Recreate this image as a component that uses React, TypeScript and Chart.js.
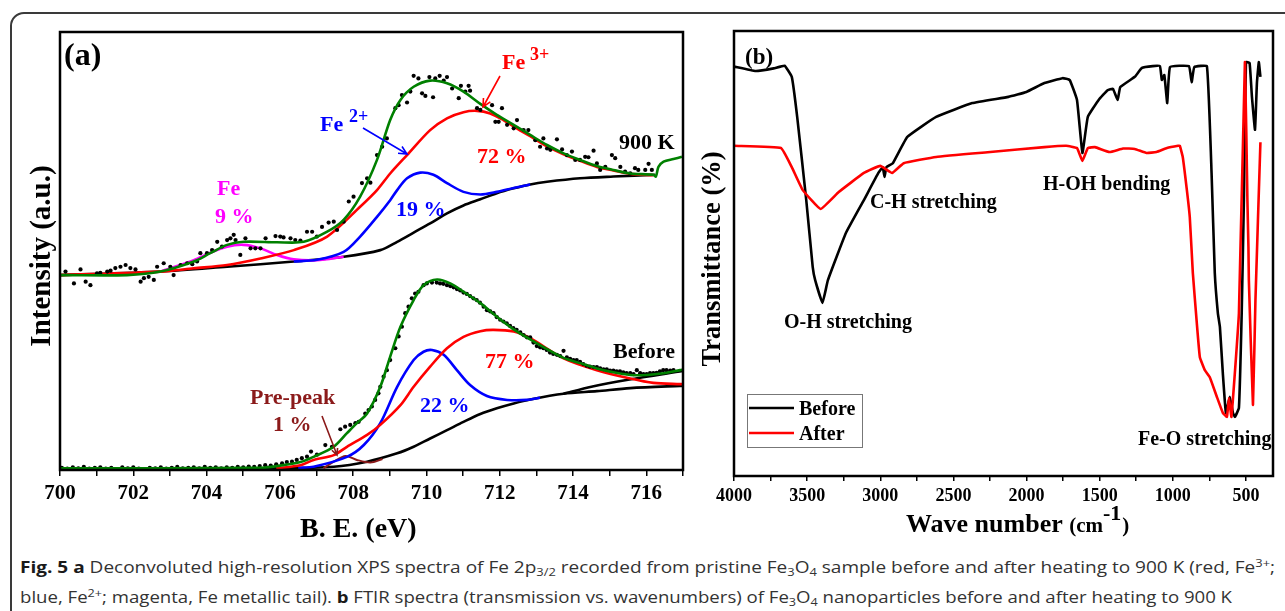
import React, { useEffect, useLayoutEffect, useRef } from "react";
import { Chart, registerables } from "chart.js";
Chart.register(...registerables);

const SERIF = '"Liberation Serif", "Times New Roman", serif';

type P = [number, number];

// ---------- Panel (a): XPS Fe 2p3/2 (x: binding energy eV, y: intensity a.u.) ----------
const xpsTicks = [700, 701, 702, 703, 704, 705, 706, 707, 708, 709, 710, 711, 712, 713, 714, 715, 716, 717];

const bg900: P[] = [[700, 44.5], [702.74, 45.3], [704.56, 46.4], [706.38, 47.6], [707.74, 48.7], [708.74, 50.2], [709.2, 52.1], [709.65, 54.2], [710.1, 56.3], [710.56, 58.6], [711.01, 60.4], [711.47, 61.8], [711.92, 63.2], [712.38, 64.3], [712.83, 65.2], [713.29, 65.8], [714.19, 66.6], [715.1, 67.0], [716.24, 67.4]];
const fe3_900: P[] = [[700, 44.5], [702.74, 45.3], [703.65, 46.05], [704.56, 46.8], [705.47, 48.3], [706.38, 50.2], [707.29, 53.3], [708.19, 60.1], [708.65, 63.9], [709.01, 67.7], [709.47, 71.9], [710.1, 77.6], [710.56, 80.3], [711.01, 81.7], [711.38, 82.0], [711.74, 81.4], [712.1, 79.9], [712.38, 78.4], [712.83, 76.2], [713.29, 73.9], [713.74, 72.1], [714.19, 70.6], [714.65, 69.2], [715.1, 68.4], [715.56, 67.6], [716.19, 67.3]];
const fe2_900: P[] = [[706.38, 47.6], [707.01, 48.0], [707.74, 49.8], [708.19, 53.3], [708.65, 57.8], [709.01, 61.6], [709.2, 63.9], [709.47, 66.6], [709.83, 67.9], [710.19, 67.4], [710.56, 65.5], [711.01, 63.5], [711.47, 62.9], [711.92, 63.5], [712.38, 64.4], [712.83, 65.2]];
const fe0_900: P[] = [[702.74, 45.3], [703.65, 47.9], [704.1, 49.6], [704.56, 51.0], [705.01, 51.4], [705.47, 50.6], [705.92, 49.1], [706.38, 48.1], [707.01, 47.9], [707.74, 48.7]];
const fit900: P[] = [[700, 44.5], [701.83, 44.5], [702.74, 45.3], [703.65, 47.6], [704.1, 49.5], [704.56, 51.4], [705.01, 52.1], [705.92, 52.0], [706.65, 52.1], [707.29, 54.4], [707.74, 57.1], [708.19, 62.4], [708.65, 70.8], [709.01, 79.9], [709.29, 84.5], [709.65, 87.5], [710.1, 88.9], [710.56, 88.3], [711.01, 86.4], [711.47, 83.6], [711.92, 81.1], [712.38, 78.8], [712.83, 76.5], [713.29, 74.2], [713.74, 72.3], [714.19, 70.8], [714.65, 69.4], [715.1, 68.5], [715.56, 67.7], [716.19, 67.4], [716.26, 67.0], [716.33, 69.2], [716.47, 70.4], [716.74, 71.0], [716.97, 71.5]];
const dots900: P[] = [[700.15, 45.3], [700.38, 42.6], [700.56, 45.8], [700.7, 43.0], [700.83, 42.2], [701.01, 44.9], [701.1, 45.0], [701.29, 45.3], [701.38, 45.5], [701.51, 46.1], [701.65, 46.4], [701.79, 46.8], [701.92, 46.1], [702.06, 45.8], [702.2, 43.0], [702.29, 43.8], [702.42, 44.1], [702.56, 43.4], [702.65, 46.4], [702.83, 47.2], [703.01, 46.4], [703.1, 44.5], [703.29, 46.8], [703.47, 47.2], [703.61, 47.0], [703.74, 47.6], [703.83, 49.5], [704.01, 49.5], [704.15, 50.2], [704.29, 52.1], [704.42, 51.0], [704.56, 52.5], [704.65, 52.9], [704.74, 53.7], [704.79, 52.5], [704.92, 49.1], [705.06, 52.9], [705.2, 50.6], [705.33, 50.6], [705.47, 50.6], [705.61, 52.9], [705.88, 53.4], [706.01, 53.3], [706.1, 53.1], [706.29, 52.9], [706.42, 52.5], [706.56, 52.4], [706.74, 54.4], [706.88, 54.4], [707.01, 53.3], [707.15, 55.5], [707.33, 56.5], [707.47, 56.7], [707.56, 54.8], [707.74, 56.7], [707.88, 61.3], [708.01, 62.4], [708.24, 65.5], [708.38, 66.6], [708.47, 65.6], [708.65, 71.9], [708.79, 73.8], [708.92, 75.7], [709.15, 82.6], [709.24, 83.3], [709.33, 85.6], [709.47, 83.9], [709.56, 86.4], [709.65, 90.0], [709.78, 89.4], [709.88, 86.0], [709.97, 85.4], [710.08, 89.7], [710.18, 85.1], [710.24, 89.4], [710.36, 90.0], [710.47, 88.9], [710.56, 89.7], [710.7, 87.1], [710.88, 84.9], [710.94, 87.7], [711.06, 86.4], [711.15, 87.7], [711.19, 86.6], [711.38, 82.6], [711.47, 82.2], [711.79, 83.3], [711.88, 79.5], [711.97, 79.5], [712.06, 82.6], [712.2, 78.8], [712.38, 78.0], [712.47, 79.9], [712.65, 77.6], [712.78, 77.6], [712.97, 75.3], [713.1, 73.8], [713.19, 75.7], [713.29, 73.4], [713.38, 73.1], [713.56, 75.5], [713.7, 73.2], [713.83, 71.9], [713.97, 72.7], [714.06, 70.8], [714.19, 70.8], [714.33, 71.5], [714.42, 71.4], [714.56, 72.9], [714.65, 70.0], [714.74, 68.5], [714.88, 69.2], [715.06, 71.9], [715.15, 71.2], [715.29, 69.2], [715.42, 68.1], [715.56, 67.7], [715.69, 68.9], [715.78, 68.5], [715.97, 68.5], [716.06, 69.9], [716.15, 68.5]];

const bgBefore: P[] = [[700, 0.2], [706.01, 0.4], [707.47, 0.75], [708.38, 1.9], [709.2, 3.8], [709.65, 5.3], [710.1, 7.2], [710.56, 9.1], [711.01, 11.0], [711.47, 12.8], [711.92, 14.1], [712.38, 15.2], [712.83, 16.1], [713.74, 17.4], [714.65, 18.0], [715.56, 18.7], [716.92, 19.2], [717, 19.2]];
const bg2Before: P[] = [[713.74, 17.4], [714.5, 19.0], [715.5, 20.6], [717, 22.6]];
const fe3Before: P[] = [[705.9, 0.4], [706.56, 1.1], [706.92, 2.3], [707.47, 3.4], [707.83, 5.3], [708.38, 8.0], [708.74, 10.3], [709.29, 14.8], [709.65, 19.0], [710.1, 23.6], [710.56, 27.8], [711.01, 30.4], [711.47, 31.7], [711.83, 32.0], [712.38, 31.6], [712.83, 30.1], [713.74, 25.5], [714.65, 22.8], [715.56, 20.9], [716.19, 19.9], [716.92, 19.6], [717, 19.6]];
const fe2Before: P[] = [[706.5, 0.5], [706.92, 0.75], [707.83, 3.0], [708.29, 5.7], [708.74, 10.7], [709.2, 19.0], [709.65, 25.1], [709.92, 27.0], [710.15, 27.4], [710.47, 26.3], [710.83, 22.8], [711.19, 19.4], [711.65, 16.9], [712.2, 16.0], [712.74, 16.0], [713.1, 16.5]];
const preBefore: P[] = [[707.19, 0.4], [707.47, 1.9], [707.79, 3.2], [708.1, 2.3], [708.47, 1.7], [708.8, 2.5]];
const fitBefore: P[] = [[700, 0.4], [705.5, 0.5], [706.0, 1.0], [706.56, 1.8], [706.92, 3.0], [707.47, 5.3], [707.83, 8.4], [708.1, 10.7], [708.38, 12.9], [708.74, 19.0], [709.01, 25.9], [709.29, 32.7], [709.65, 38.8], [709.92, 42.2], [710.29, 43.5], [710.65, 42.6], [711.01, 40.7], [711.47, 38.1], [711.92, 35.0], [712.38, 32.1], [712.83, 29.8], [713.29, 27.6], [713.74, 25.6], [714.19, 24.4], [714.65, 23.2], [715.1, 22.3], [715.56, 21.7], [716.01, 21.7], [716.47, 22.1], [716.92, 22.8], [717, 22.9]];
const dotsBefore: P[] = [[700.05, 0.5], [700.2, 0.3], [700.35, 0.6], [700.5, 0.4], [700.65, 0.7], [700.8, 0.3], [700.95, 0.5], [701.1, 0.6], [701.25, 0.3], [701.4, 0.5], [701.55, 0.2], [701.7, 0.6], [701.85, 0.4], [702.0, 0.6], [702.15, 0.3], [702.3, 0.1], [702.45, 0.5], [702.6, 0.4], [702.75, 0.6], [702.9, 0.3], [703.05, 0.5], [703.2, 0.7], [703.35, 0.4], [703.5, 0.5], [703.65, 0.6], [703.8, 0.4], [703.95, 0.7], [704.1, 0.5], [704.25, 0.6], [704.4, 0.4], [704.55, 0.6], [704.7, 0.5], [704.85, 0.7], [705.0, 0.6], [705.15, 0.8], [705.3, 0.7], [705.45, 0.9], [705.6, 1.1], [705.75, 1.0], [705.9, 1.3], [706.06, 1.5], [706.19, 1.8], [706.33, 1.9], [706.46, 2.3], [706.6, 2.7], [706.74, 3.05], [706.85, 4.2], [707.01, 3.5], [707.24, 5.7], [707.42, 5.3], [707.65, 9.3], [707.78, 9.9], [707.92, 10.3], [708.06, 10.7], [708.15, 11.0], [708.33, 12.9], [708.42, 13.7], [708.51, 14.5], [708.6, 16.0], [708.69, 17.5], [708.74, 19.0], [708.83, 21.3], [708.92, 22.8], [709.01, 25.1], [709.15, 27.8], [709.24, 30.5], [709.33, 32.7], [709.42, 35.8], [709.51, 37.3], [709.6, 39.2], [709.69, 40.3], [709.78, 40.7], [709.92, 42.2], [710.01, 42.6], [710.15, 42.8], [710.28, 42.8], [710.37, 42.6], [710.46, 42.5], [710.56, 42.2], [710.65, 42.0], [710.74, 41.7], [710.83, 41.3], [710.92, 41.0], [711.01, 40.5], [711.1, 40.2], [711.19, 39.7], [711.28, 39.2], [711.37, 38.8], [711.46, 38.2], [711.56, 37.3], [711.65, 36.5], [711.74, 36.2], [711.83, 35.8], [711.92, 34.9], [712.01, 34.3], [712.1, 33.9], [712.19, 33.5], [712.28, 32.9], [712.37, 32.4], [712.46, 32.0], [712.56, 31.4], [712.65, 30.8], [712.74, 30.3], [712.83, 30.3], [712.92, 29.1], [713.01, 28.3], [713.1, 28.0], [713.19, 27.8], [713.28, 27.4], [713.37, 26.8], [713.46, 26.5], [713.56, 26.3], [713.65, 26.0], [713.74, 27.2], [713.83, 25.7], [713.92, 25.4], [714.01, 25.1], [714.1, 25.1], [714.19, 24.7], [714.28, 24.2], [714.37, 23.8], [714.46, 23.6], [714.56, 23.5], [714.65, 23.5], [714.74, 23.2], [714.83, 23.0], [714.92, 23.0], [715.01, 22.7], [715.1, 22.7], [715.19, 22.5], [715.28, 22.5], [715.37, 22.3], [715.46, 22.1], [715.56, 22.1], [715.65, 21.9], [715.74, 22.8], [715.83, 22.1], [715.92, 21.9], [716.01, 21.9], [716.1, 22.1], [716.19, 22.1], [716.28, 22.2], [716.37, 22.5], [716.46, 22.8], [716.55, 22.8], [716.65, 22.7], [716.74, 22.8]];

// ---------- Panel (b): FTIR (x: wavenumber cm-1, y: transmittance, arbitrary %) ----------
const ftirTicks = [4000, 3750, 3500, 3250, 3000, 2750, 2500, 2250, 2000, 1750, 1500, 1250, 1000, 750, 500];
const ftirBefore: P[] = [[4000, 92.0], [3852, 91.0], [3729, 91.6], [3654, 92.2], [3605, 89.7], [3568, 80.7], [3506, 62.0], [3462, 47.0], [3445, 44.0], [3395, 38.9], [3358, 44.0], [3235, 54.6], [3112, 62.0], [3013, 68.1], [2983, 69.4], [2971, 67.2], [2958, 69.4], [2914, 70.3], [2815, 76.2], [2618, 80.7], [2371, 83.8], [2124, 85.2], [2001, 86.3], [1878, 88.3], [1754, 89.4], [1705, 89.0], [1655, 84.5], [1618, 72.6], [1581, 80.7], [1507, 84.5], [1446, 86.7], [1409, 87.0], [1377, 84.5], [1359, 87.4], [1260, 89.7], [1211, 91.7], [1137, 92.1], [1088, 92.1], [1075, 89.0], [1058, 90.1], [1038, 83.8], [1019, 91.9], [890, 92.1], [871, 88.5], [853, 91.9], [767, 92.1], [735, 68.1], [713, 45.6], [692, 36.6], [678, 33.5], [658, 23.1], [637, 14.2], [610, 17.8], [589, 14.2], [575, 13.3], [548, 15.3], [529, 36.6], [514, 62.0], [500, 93.0], [475, 92.8], [459, 85.2], [438, 77.8], [425, 88.3], [412, 93.0], [401, 89.7]];
const ftirAfter: P[] = [[4000, 74.2], [3679, 73.7], [3605, 69.4], [3531, 64.3], [3408, 60.0], [3284, 63.8], [3112, 68.1], [3000, 69.7], [2919, 68.1], [2840, 70.3], [2618, 71.7], [2248, 72.8], [1878, 73.9], [1729, 74.2], [1655, 73.7], [1618, 70.8], [1581, 73.7], [1532, 73.9], [1433, 72.8], [1340, 73.6], [1260, 73.5], [1180, 72.6], [1112, 72.8], [1040, 73.7], [964, 74.2], [952, 74.2], [932, 71.7], [904, 64.3], [884, 58.2], [863, 45.6], [836, 34.4], [815, 26.7], [781, 23.8], [747, 22.2], [699, 17.8], [658, 14.2], [630, 13.3], [616, 17.5], [599, 13.3], [548, 36.6], [507, 93.0], [490, 62.0], [483, 51.5], [480, 44.0], [452, 16.0], [435, 39.6], [401, 75.0]];

const toXY = (arr: P[]) => arr.map(([x, y]) => ({ x, y }));

function txt(ctx: CanvasRenderingContext2D, s: string, x: number, y: number, size: number, color: string, align: CanvasTextAlign = "left") {
  ctx.font = `bold ${size}px ${SERIF}`;
  ctx.fillStyle = color;
  ctx.textAlign = align;
  ctx.textBaseline = "alphabetic";
  ctx.fillText(s, x, y);
}

function arrow(ctx: CanvasRenderingContext2D, x1: number, y1: number, x2: number, y2: number, color: string, head = 9) {
  ctx.save();
  ctx.strokeStyle = color;
  ctx.lineWidth = 1.6;
  ctx.beginPath();
  ctx.moveTo(x1, y1);
  ctx.lineTo(x2, y2);
  const a = Math.atan2(y2 - y1, x2 - x1);
  ctx.moveTo(x2 - head * Math.cos(a - 0.45), y2 - head * Math.sin(a - 0.45));
  ctx.lineTo(x2, y2);
  ctx.lineTo(x2 - head * Math.cos(a + 0.45), y2 - head * Math.sin(a + 0.45));
  ctx.stroke();
  ctx.restore();
}

const framePlugin = {
  id: "frame",
  afterDatasetsDraw(chart: any) {
    const { ctx, chartArea } = chart;
    const { left, top, right, bottom } = chartArea;
    ctx.save();
    ctx.lineWidth = 2.5;
    ctx.strokeStyle = "#000";
    ctx.strokeRect(left, top, right - left, bottom - top);
    ctx.restore();
  },
};

const annotA = {
  id: "annotA",
  afterDraw(chart: any) {
    const ctx: CanvasRenderingContext2D = chart.ctx;
    ctx.save();
    txt(ctx, "(a)", 64, 65, 32, "#000");
    txt(ctx, "Fe", 217, 195, 22, "#ff00ff");
    txt(ctx, "9 %", 215, 223, 22, "#ff00ff");
    txt(ctx, "Fe", 320, 131, 22, "#0000ff");
    txt(ctx, "2+", 349, 122, 18, "#0000ff");
    arrow(ctx, 363, 128, 407, 154, "#0000ff");
    txt(ctx, "Fe", 502, 69, 22, "#ff0000");
    txt(ctx, "3+", 530, 60, 18, "#ff0000");
    arrow(ctx, 500, 76, 483, 107, "#ff0000");
    txt(ctx, "72 %", 477, 163, 22, "#ff0000");
    txt(ctx, "19 %", 396, 216, 22, "#0000ff");
    txt(ctx, "900 K", 619, 149, 22, "#000");
    txt(ctx, "Before", 613, 358, 22, "#000");
    txt(ctx, "77 %", 485, 368, 22, "#ff0000");
    txt(ctx, "22 %", 420, 412, 22, "#0000ff");
    txt(ctx, "Pre-peak", 250, 404, 22, "#8b1a1a");
    txt(ctx, "1 %", 273, 431, 22, "#8b1a1a");
    arrow(ctx, 322, 416, 337, 455, "#8b1a1a", 7);
    // axis titles
    txt(ctx, "B. E. (eV)", 300, 537, 28, "#000");
    ctx.translate(50, 256);
    ctx.rotate(-Math.PI / 2);
    txt(ctx, "Intensity (a.u.)", 0, 0, 29, "#000", "center");
    ctx.restore();
  },
};

const OX = 695;
const annotB = {
  id: "annotB",
  afterDraw(chart: any) {
    const ctx: CanvasRenderingContext2D = chart.ctx;
    ctx.save();
    ctx.translate(-OX, 0);
    txt(ctx, "(b)", 745, 64, 23, "#000");
    txt(ctx, "C-H stretching", 870, 208, 20, "#000");
    txt(ctx, "H-OH bending", 1043, 190, 20, "#000");
    txt(ctx, "O-H stretching", 784, 328, 20, "#000");
    txt(ctx, "Fe-O stretching", 1138, 445, 20, "#000");
    // legend
    ctx.fillStyle = "#fff";
    ctx.fillRect(747, 394, 115, 53);
    ctx.strokeStyle = "#777";
    ctx.lineWidth = 1;
    ctx.strokeRect(747.5, 394.5, 115, 53);
    ctx.lineWidth = 2.6;
    ctx.strokeStyle = "#000";
    ctx.beginPath(); ctx.moveTo(749, 408); ctx.lineTo(794, 408); ctx.stroke();
    ctx.strokeStyle = "#ff0000";
    ctx.beginPath(); ctx.moveTo(749, 433); ctx.lineTo(794, 433); ctx.stroke();
    txt(ctx, "Before", 799, 415, 20, "#000");
    txt(ctx, "After", 799, 440, 20, "#000");
    // x title
    let x = 906;
    const by = 532;
    txt(ctx, "Wave number ", x, by, 26, "#000");
    ctx.font = `bold 26px ${SERIF}`;
    x += ctx.measureText("Wave number ").width;
    txt(ctx, "(cm", x, by, 21, "#000");
    ctx.font = `bold 21px ${SERIF}`;
    x += ctx.measureText("(cm").width;
    txt(ctx, "-1", x, by - 12, 22, "#000");
    ctx.font = `bold 22px ${SERIF}`;
    x += ctx.measureText("-1").width + 1;
    txt(ctx, ")", x, by, 21, "#000");
    // y title
    ctx.translate(720, 259);
    ctx.rotate(-Math.PI / 2);
    txt(ctx, "Transmittance (%)", 0, 0, 26.5, "#000", "center");
    ctx.restore();
  },
};

function line(data: P[], color: string, width = 2.6, tension = 0.3) {
  return {
    data: toXY(data),
    showLine: true,
    borderColor: color,
    backgroundColor: color,
    borderWidth: width,
    pointRadius: 0,
    tension,
    borderJoinStyle: "round",
    fill: false,
  };
}

function dots(data: P[]) {
  return {
    data: toXY(data),
    showLine: false,
    pointRadius: 2.1,
    pointBorderWidth: 0,
    pointBackgroundColor: "#000",
    backgroundColor: "#000",
    borderColor: "#000",
  };
}

const tickFont = (size: number) => ({ family: SERIF, size, weight: "bold" as const });

function XPSChart() {
  const ref = useRef<HTMLCanvasElement>(null);
  useEffect(() => {
    const chart = new Chart(ref.current!, {
      type: "scatter",
      data: {
        datasets: [
          { label: "Fit 900 K", ...line(fit900, "#008000") },
          { label: "Fit Before", ...line(fitBefore, "#008000") },
          { label: "Data 900 K", ...dots(dots900) },
          { label: "Data Before", ...dots(dotsBefore) },
          { label: "Fe3+ 900 K", ...line(fe3_900, "#ff0000") },
          { label: "Fe3+ Before", ...line(fe3Before, "#ff0000") },
          { label: "Fe2+ 900 K", ...line(fe2_900, "#0000ff") },
          { label: "Fe2+ Before", ...line(fe2Before, "#0000ff") },
          { label: "Fe 900 K", ...line(fe0_900, "#ff00ff") },
          { label: "Pre-peak", ...line(preBefore, "#8b1a1a", 2) },
          { label: "Background 900 K", ...line(bg900, "#000") },
          { label: "Background Before", ...line(bgBefore, "#000") },
          { label: "Background 2 Before", ...line(bg2Before, "#000") },
        ] as any,
      },
      options: {
        animation: false,
        responsive: false,
        maintainAspectRatio: false,
        layout: { padding: { top: 32, right: 17, left: 0, bottom: 0 } },
        plugins: { legend: { display: false }, tooltip: { enabled: false } },
        scales: {
          x: {
            type: "linear",
            min: 700,
            max: 717,
            afterBuildTicks: (s: any) => { s.ticks = xpsTicks.map((v) => ({ value: v })); },
            afterFit: (s: any) => { s.height = 80; },
            ticks: {
              autoSkip: false,
              maxRotation: 0,
              padding: 5,
              color: "#000",
              font: tickFont(21),
              callback: (v: any) => (Number(v) % 2 === 0 ? String(v) : ""),
            },
            grid: { drawOnChartArea: false, drawTicks: true, tickLength: 6, color: "#000", lineWidth: 1.5 },
            border: { display: false },
          },
          y: {
            min: 0,
            max: 100,
            afterFit: (s: any) => { s.width = 60; },
            ticks: { display: false },
            grid: { display: false },
            border: { display: false },
          },
        },
      } as any,
      plugins: [framePlugin, annotA],
    });
    return () => chart.destroy();
  }, []);
  return <canvas ref={ref} width={700} height={550} style={{ position: "absolute", left: 0, top: 0, width: 700, height: 550 }} />;
}

function FTIRChart() {
  const ref = useRef<HTMLCanvasElement>(null);
  useEffect(() => {
    const chart = new Chart(ref.current!, {
      type: "scatter",
      data: {
        datasets: [
          { label: "After", ...line(ftirAfter, "#ff0000", 2.6, 0.1) },
          { label: "Before", ...line(ftirBefore, "#000", 2.6, 0.1) },
        ] as any,
      },
      options: {
        animation: false,
        responsive: false,
        maintainAspectRatio: false,
        layout: { padding: { top: 31, right: 12, left: 0, bottom: 0 } },
        plugins: { legend: { display: false }, tooltip: { enabled: false } },
        scales: {
          x: {
            type: "linear",
            min: 315,
            max: 4000,
            reverse: true,
            afterBuildTicks: (s: any) => { s.ticks = ftirTicks.map((v) => ({ value: v })); },
            afterFit: (s: any) => { s.height = 74; },
            ticks: {
              autoSkip: false,
              maxRotation: 0,
              padding: 5,
              color: "#000",
              font: tickFont(18),
              callback: (v: any) => (Number(v) % 500 === 0 ? String(v) : ""),
            },
            grid: { drawOnChartArea: false, drawTicks: true, tickLength: 5, color: "#000", lineWidth: 1.5 },
            border: { display: false },
          },
          y: {
            min: 0,
            max: 100,
            afterFit: (s: any) => { s.width = 39; },
            ticks: { display: false },
            grid: { display: false },
            border: { display: false },
          },
        },
      } as any,
      plugins: [framePlugin, annotB],
    });
    return () => chart.destroy();
  }, []);
  return <canvas ref={ref} width={590} height={550} style={{ position: "absolute", left: OX, top: 0, width: 590, height: 550 }} />;
}

const capStyle: React.CSSProperties = {
  position: "absolute",
  left: 20,
  whiteSpace: "nowrap",
  fontFamily: '"Open Sans", "Noto Sans", sans-serif',
  fontSize: 16,
  lineHeight: "20px",
  color: "#333",
  transformOrigin: "0 0",
};
const supS: React.CSSProperties = { fontSize: "0.68em", verticalAlign: "0.55em", lineHeight: 0 };
const subS: React.CSSProperties = { fontSize: "0.68em", verticalAlign: "-0.3em", lineHeight: 0 };

export default function App() {
  const l1 = useRef<HTMLDivElement>(null);
  const l2 = useRef<HTMLDivElement>(null);
  useLayoutEffect(() => {
    const fit = (el: HTMLDivElement | null, target: number) => {
      if (!el) return;
      const w = el.scrollWidth;
      if (w > 0) el.style.transform = `scaleX(${target / w})`;
    };
    fit(l1.current, 1255);
    fit(l2.current, 1212);
  }, []);
  return (
    <div style={{ position: "absolute", left: 0, top: 0, width: 1285, height: 611, overflow: "hidden", background: "#fff" }}>
      <div style={{ position: "absolute", left: 10, top: 12, width: 1300, height: 640, border: "2px solid #3a3a3a", borderRadius: 14, boxSizing: "border-box" }} />
      <XPSChart />
      <FTIRChart />
      <div ref={l1} style={{ ...capStyle, top: 557 }}>
        <b style={{ color: "#1a1a1a" }}>Fig. 5</b> <b style={{ color: "#1a1a1a" }}>a</b> Deconvoluted high-resolution XPS spectra of Fe 2p<sub style={subS}>3/2</sub> recorded from pristine Fe<sub style={subS}>3</sub>O<sub style={subS}>4</sub> sample before and after heating to 900 K (red, Fe<sup style={supS}>3+</sup>;
      </div>
      <div ref={l2} style={{ ...capStyle, top: 587 }}>
        blue, Fe<sup style={supS}>2+</sup>; magenta, Fe metallic tail). <b style={{ color: "#1a1a1a" }}>b</b> FTIR spectra (transmission vs. wavenumbers) of Fe<sub style={subS}>3</sub>O<sub style={subS}>4</sub> nanoparticles before and after heating to 900 K
      </div>
    </div>
  );
}
